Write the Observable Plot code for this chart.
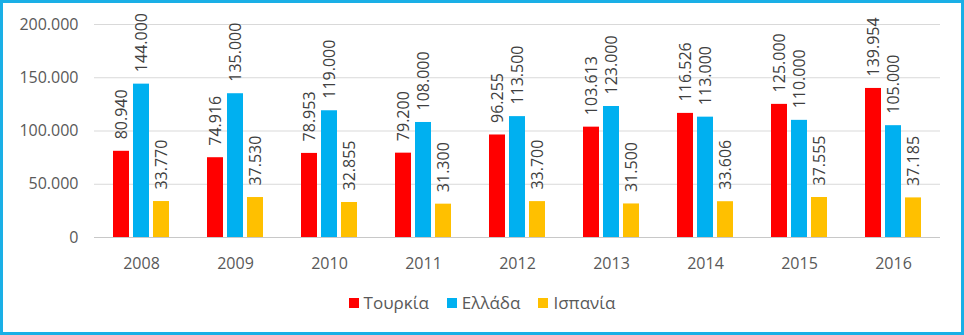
<!DOCTYPE html>
<html>
<head>
<meta charset="utf-8">
<script src="https://cdn.jsdelivr.net/npm/d3@7"></script>
<script src="https://cdn.jsdelivr.net/npm/@observablehq/plot@0.6"></script>
<style>
  html, body { margin: 0; padding: 0; background: #fff; }
  #frame {
    position: relative; width: 964px; height: 335px; box-sizing: border-box;
    border: 3px solid #1AAFE6; background: #fff; overflow: hidden;
    font-family: "Open Sans", sans-serif;
  }
  #legend {
    position: absolute; left: 0; right: 0; top: 288px;
    display: flex; justify-content: center; gap: 18px;
    font-size: 17px; color: #595959;
  }
  #legend .item { display: flex; align-items: center; gap: 5px; }
  #legend .sw { width: 10px; height: 10px; display: inline-block; }
</style>
</head>
<body>
<div id="frame"><div id="chart"></div><div id="legend"></div></div>
<script>
const years = ["2008","2009","2010","2011","2012","2013","2014","2015","2016"];
const seriesNames = ["Τουρκία","Ελλάδα","Ισπανία"];
const turkey = [80940, 74916, 78953, 79200, 96255, 103613, 116526, 125000, 139954];
const greece = [144000, 135000, 119000, 108000, 113500, 123000, 113000, 110000, 105000];
const spain  = [33770, 37530, 32855, 31300, 33700, 31500, 33606, 37555, 37185];
const colors = ["#FF0000", "#00B0F0", "#FFC000"];
const yTicks = [0, 50000, 100000, 150000, 200000];

const seriesValues = [turkey, greece, spain];
const data = years.flatMap((y, i) => seriesNames.map((s, k) => ({year: y, s, v: seriesValues[k][i]})));

const fmtLocale = d3.formatLocale({decimal: ",", thousands: ".", grouping: [3], currency: ["", "€"]});
const fmt = fmtLocale.format(",");

const chart = Plot.plot({
  width: 958, height: 272,
  marginLeft: 90, marginRight: 21, marginTop: 21, marginBottom: 38,
  style: {fontFamily: "Open Sans, sans-serif", fontSize: "16px", color: "#595959", background: "#fff", overflow: "visible"},
  fx: {domain: years, paddingInner: 0, paddingOuter: 0, label: null, axis: "bottom", tickSize: 0, tickPadding: 20},
  x: {domain: seriesNames, paddingInner: 0.2, paddingOuter: 0.87, axis: null},
  y: {domain: [0, 200000], ticks: yTicks, label: null, tickSize: 0, tickPadding: 16, tickFormat: d => fmt(d)},
  color: {domain: seriesNames, range: colors},
  marks: [
    Plot.ruleY(yTicks.slice(1), {stroke: "#d9d9d9", strokeWidth: 1}),
    Plot.ruleY([0], {stroke: "#c8c8c8", strokeWidth: 1}),
    Plot.barY(data, {fx: "year", x: "s", y: "v", fill: "s"}),
    Plot.text(data, {fx: "year", x: "s", y: "v", text: d => fmt(d.v), rotate: -90, textAnchor: "start", dy: -12, fill: "#404040", fontSize: 16})
  ]
});
document.getElementById("chart").appendChild(chart);

const legend = document.getElementById("legend");
seriesNames.forEach((s, i) => {
  const it = document.createElement("div");
  it.className = "item";
  const sw = document.createElement("span");
  sw.className = "sw"; sw.style.background = colors[i];
  const t = document.createElement("span");
  t.textContent = s;
  it.appendChild(sw); it.appendChild(t);
  legend.appendChild(it);
});
</script>
</body>
</html>
